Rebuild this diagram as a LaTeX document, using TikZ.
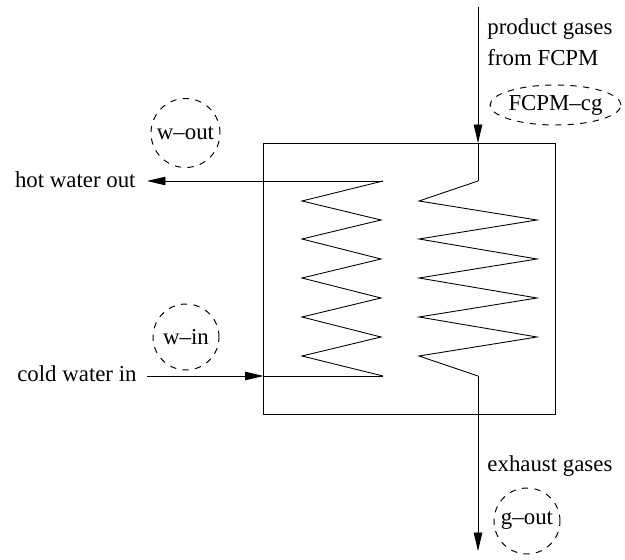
\documentclass[tikz,border=0pt]{standalone}
\usepackage{fontspec}
\setmainfont{Liberation Serif}
\usetikzlibrary{arrows.meta,shapes.geometric}
\tikzset{
  lbl/.style={inner sep=0pt, font=\fontsize{13}{15}\selectfont},
  tag/.style={draw, dash pattern=on 3.6pt off 3.6pt, line width=0.55pt, circle, inner sep=0pt, minimum size=1.32cm, font=\fontsize{13}{15}\selectfont},
  tagwide/.style={draw, dash pattern=on 3.6pt off 3.6pt, line width=0.55pt, ellipse, inner ysep=0pt, inner xsep=-0.4pt, minimum height=0.8cm, font=\fontsize{13}{15}\selectfont},
  flow/.style={draw, -{Triangle[length=3.7mm,width=1.7mm]}},
}
\begin{document}
\begin{tikzpicture}[x=0.02cm, y=-0.02cm, line width=0.5pt]
\useasboundingbox (0,0) rectangle (625,560);

\draw (263.5,143) rectangle (555,414);

\coordinate (hotstart) at (383,181);
\coordinate (hotend) at (147,181);
\coordinate (coldstart) at (147,376);
\coordinate (coldmid) at (263.5,376);
\coordinate (coldend) at (383,376);
\coordinate (gasstart) at (478,7);
\coordinate (gastop) at (478,143);
\coordinate (gasin) at (478,181);
\coordinate (gasout) at (478,376);
\coordinate (gasend) at (478,551);

\node[lbl, anchor=east] (hot) at (136,180) {hot water out};
\node[lbl, anchor=east] (cold) at (137,374) {cold water in};
\node[lbl, anchor=west] (prod) at (487,29) {product gases};
\node[lbl, anchor=west] (from) at (487,58) {from FCPM};
\node[lbl, anchor=west] (exh) at (487,466) {exhaust gases};

\node[tag, minimum size=1.38cm] (wout) at (185.5,133) {w--out};
\node[tag] (win) at (186,337) {w--in};
\node[tag] (gout) at (527,521) {g--out};
\node[tagwide] (fcpm) at (555.5,105) {FCPM--cg};

% water side
\draw[flow] (hotstart) -- (hotend);
\draw[flow] (coldstart) -- (coldmid);
\draw (coldmid) -- (coldend);
\draw (hotstart)--(302,201)--(381,220)--(302,239)--(381,259)--(302,278)--(381,298)--(302,317)--(381,337)--(302,356)--(coldend);

% gas side
\draw[flow] (gasstart) -- (gastop);
\draw (gastop) -- (gasin);
\draw (gasin)--(419,201)--(537,220)--(419,239)--(537,259)--(419,278)--(537,298)--(419,317)--(537,337)--(419,356)--(gasout);
\draw[flow] (gasout) -- (gasend);
\end{tikzpicture}
\end{document}
